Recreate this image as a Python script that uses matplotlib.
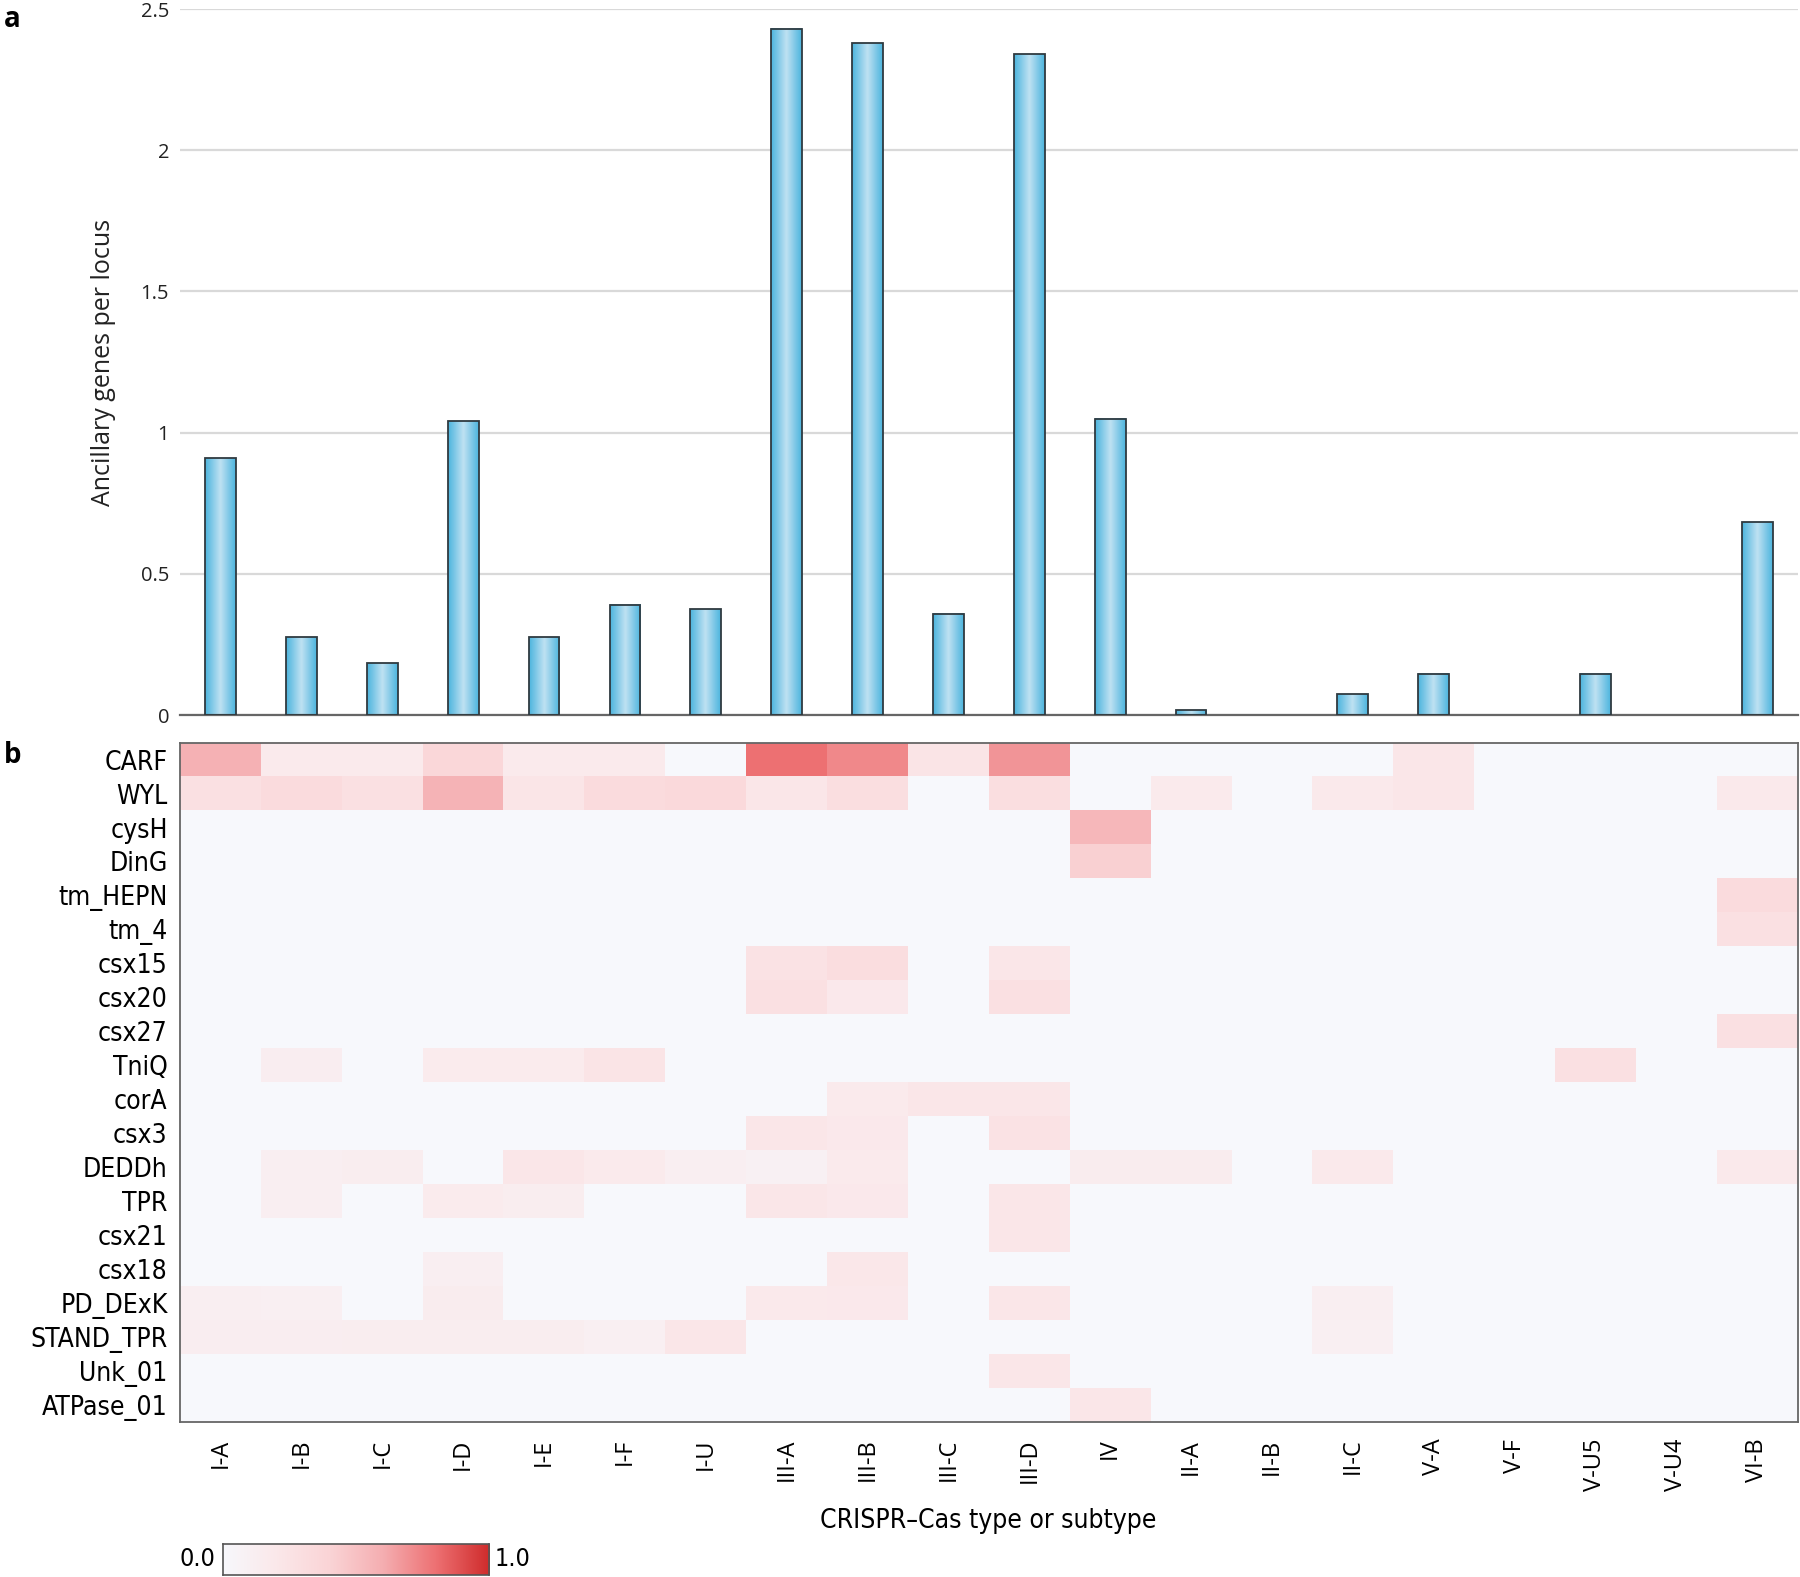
import numpy as np
import matplotlib
matplotlib.use("Agg")
import matplotlib.pyplot as plt
from matplotlib.colors import LinearSegmentedColormap

subtypes = ["I-A", "I-B", "I-C", "I-D", "I-E", "I-F", "I-U", "III-A", "III-B", "III-C",
            "III-D", "IV", "II-A", "II-B", "II-C", "V-A", "V-F", "V-U5", "V-U4", "VI-B"]

genes_per_locus = [0.91, 0.276, 0.183, 1.04, 0.276, 0.39, 0.374, 2.43, 2.38, 0.358,
                   2.34, 1.05, 0.016, 0.0, 0.073, 0.146, 0.0, 0.146, 0.0, 0.683]

genes = ["CARF", "WYL", "cysH", "DinG", "tm_HEPN", "tm_4", "csx15", "csx20", "csx27", "TniQ",
         "corA", "csx3", "DEDDh", "TPR", "csx21", "csx18", "PD_DExK", "STAND_TPR", "Unk_01", "ATPase_01"]

# fraction of loci per subtype carrying each ancillary gene (columns follow subtypes)
carf      = [0.58, 0.17, 0.17, 0.37, 0.17, 0.17, 0, 0.80, 0.72, 0.24, 0.68, 0, 0, 0, 0, 0.22, 0, 0, 0, 0]
wyl       = [0.28, 0.33, 0.28, 0.57, 0.23, 0.33, 0.34, 0.22, 0.29, 0, 0.30, 0, 0.17, 0, 0.18, 0.22, 0, 0, 0, 0.18]
cysh      = [0, 0, 0, 0, 0, 0, 0, 0, 0, 0, 0, 0.55, 0, 0, 0, 0, 0, 0, 0, 0]
ding      = [0, 0, 0, 0, 0, 0, 0, 0, 0, 0, 0, 0.42, 0, 0, 0, 0, 0, 0, 0, 0]
tm_hepn   = [0, 0, 0, 0, 0, 0, 0, 0, 0, 0, 0, 0, 0, 0, 0, 0, 0, 0, 0, 0.33]
tm_4      = [0, 0, 0, 0, 0, 0, 0, 0, 0, 0, 0, 0, 0, 0, 0, 0, 0, 0, 0, 0.28]
csx15     = [0, 0, 0, 0, 0, 0, 0, 0.25, 0.31, 0, 0.22, 0, 0, 0, 0, 0, 0, 0, 0, 0]
csx20     = [0, 0, 0, 0, 0, 0, 0, 0.28, 0.19, 0, 0.28, 0, 0, 0, 0, 0, 0, 0, 0, 0]
csx27     = [0, 0, 0, 0, 0, 0, 0, 0, 0, 0, 0, 0, 0, 0, 0, 0, 0, 0, 0, 0.27]
tniq      = [0, 0.13, 0, 0.16, 0.16, 0.24, 0, 0, 0, 0, 0, 0, 0, 0, 0, 0, 0, 0.28, 0, 0]
cora      = [0, 0, 0, 0, 0, 0, 0, 0, 0.17, 0.22, 0.22, 0, 0, 0, 0, 0, 0, 0, 0, 0]
csx3      = [0, 0, 0, 0, 0, 0, 0, 0.22, 0.19, 0, 0.25, 0, 0, 0, 0, 0, 0, 0, 0, 0]
deddh     = [0, 0.12, 0.14, 0, 0.22, 0.17, 0.12, 0.10, 0.17, 0, 0, 0.15, 0.15, 0, 0.18, 0, 0, 0, 0, 0.18]
tpr       = [0, 0.12, 0, 0.16, 0.14, 0, 0, 0.22, 0.19, 0, 0.22, 0, 0, 0, 0, 0, 0, 0, 0, 0]
csx21     = [0, 0, 0, 0, 0, 0, 0, 0, 0, 0, 0.22, 0, 0, 0, 0, 0, 0, 0, 0, 0]
csx18     = [0, 0, 0, 0.12, 0, 0, 0, 0, 0.21, 0, 0, 0, 0, 0, 0, 0, 0, 0, 0, 0]
pd_dexk   = [0.12, 0.11, 0, 0.15, 0, 0, 0, 0.18, 0.19, 0, 0.22, 0, 0, 0, 0.12, 0, 0, 0, 0, 0]
stand_tpr = [0.13, 0.13, 0.14, 0.14, 0.14, 0.11, 0.22, 0, 0, 0, 0, 0, 0, 0, 0.11, 0, 0, 0, 0, 0]
unk_01    = [0, 0, 0, 0, 0, 0, 0, 0, 0, 0, 0.22, 0, 0, 0, 0, 0, 0, 0, 0, 0]
atpase_01 = [0, 0, 0, 0, 0, 0, 0, 0, 0, 0, 0, 0.22, 0, 0, 0, 0, 0, 0, 0, 0]

heat = np.array([carf, wyl, cysh, ding, tm_hepn, tm_4, csx15, csx20, csx27, tniq,
                 cora, csx3, deddh, tpr, csx21, csx18, pd_dexk, stand_tpr, unk_01, atpase_01])

narrow = dict(family=["DejaVu Sans"], fontstretch="condensed")
plt.rcParams["font.family"] = ["Open Sans", "DejaVu Sans"]

heat_cmap = LinearSegmentedColormap.from_list(
    "ancillary", [(0.0, "#f7f8fc"), (0.2, "#fbe8ea"), (0.4, "#fad4d6"),
                  (0.6, "#f5aeb1"), (0.8, "#ed7072"), (1.0, "#cf2b2b")])
bar_cmap = LinearSegmentedColormap.from_list(
    "bar", ["#4db5de", "#86cbe8", "#bfe2f2", "#86cbe8", "#4db5de"])

fig = plt.figure(figsize=(18, 15.77), dpi=100)

# panel a: bars
ax = fig.add_axes([0.1001, 0.5466, 0.8986, 0.4476])
x = np.arange(len(subtypes))
h = np.array(genes_per_locus)
w = 0.38
grad = np.linspace(0, 1, 64).reshape(1, -1)
for xi, hi in zip(x, h):
    if hi <= 0:
        continue
    ax.imshow(grad, extent=(xi - w / 2, xi + w / 2, 0, hi), aspect="auto",
              cmap=bar_cmap, zorder=2, interpolation="bilinear")
nz = h > 0
ax.bar(x[nz], h[nz], width=w, fill=False, edgecolor="#2f3a40", linewidth=1.3, zorder=3)
ax.set_xlim(-0.5, len(subtypes) - 0.5)
ax.set_ylim(0, 2.5)
ax.set_yticks([0, 0.5, 1, 1.5, 2, 2.5])
ax.set_yticklabels(["0", "0.5", "1", "1.5", "2", "2.5"])
ax.tick_params(axis="y", length=0, pad=8, labelsize=14.5, labelcolor="#222222")
ax.set_xticks([])
ax.grid(True, axis="y", color="#d9d9d9", linewidth=1.6, zorder=0)
for s in ["top", "left", "right"]:
    ax.spines[s].set_visible(False)
ax.spines["bottom"].set_color("#666666")
ax.spines["bottom"].set_linewidth(1.6)
ax.set_ylabel("Ancillary genes per locus", fontsize=18, labelpad=18, color="#222222")
ax.set_axisbelow(True)

# panel b: heatmap
hx = fig.add_axes([0.1001, 0.0983, 0.8986, 0.4308])
hx.imshow(heat, cmap=heat_cmap, vmin=0, vmax=1, aspect="auto", interpolation="nearest")
hx.set_xticks(np.arange(len(subtypes)))
hx.set_xticklabels(subtypes, rotation=90, fontsize=17, va="top")
hx.set_yticks(np.arange(len(genes)))
hx.set_yticklabels(genes, fontsize=19, **narrow)
hx.tick_params(length=0)
hx.tick_params(axis="x", pad=12)
hx.tick_params(axis="y", pad=9)
for s in hx.spines.values():
    s.set_color("#666666")
    s.set_linewidth(1.3)

fig.text(0.549, 0.0357, "CRISPR\u2013Cas type or subtype", ha="center", va="center",
         fontsize=19, **narrow)

# colour scale
cax = fig.add_axes([0.1237, 0.0015, 0.148, 0.0196])
cax.imshow(np.linspace(0, 1, 256).reshape(1, -1), cmap=heat_cmap, aspect="auto",
           extent=(0, 1, 0, 1))
cax.set_xticks([])
cax.set_yticks([])
for s in cax.spines.values():
    s.set_color("#555555")
    s.set_linewidth(1.2)
fig.text(0.1195, 0.0113, "0.0", ha="right", va="center", fontsize=18, **narrow)
fig.text(0.2745, 0.0113, "1.0", ha="left", va="center", fontsize=18, **narrow)

fig.text(0.002, 0.997, "a", fontsize=20, fontweight="bold", va="top", ha="left")
fig.text(0.002, 0.530, "b", fontsize=20, fontweight="bold", va="top", ha="left")

fig.savefig("out.png", dpi=100)
